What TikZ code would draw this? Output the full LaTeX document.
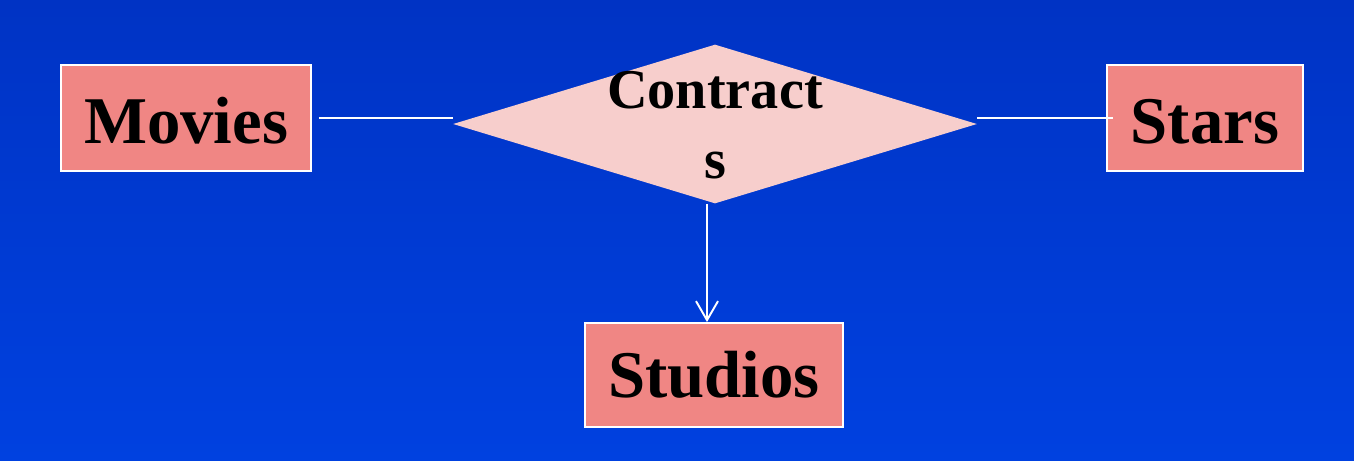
\documentclass[tikz,border=0pt]{standalone}
\usepackage{fontspec}
\setmainfont{Liberation Serif}
\usetikzlibrary{shapes.geometric, arrows.meta}

\definecolor{backtop}{RGB}{0,51,196}
\definecolor{backbottom}{RGB}{0,65,224}
\definecolor{entityfill}{RGB}{240,134,132}
\definecolor{relationfill}{RGB}{247,206,204}

\begin{document}
\begin{tikzpicture}[x = 0.02cm, y = -0.02cm, > = {Straight Barb[length = 0.38cm, width = 0.44cm]},
	entity/.style = {draw = white, line width = 1.1pt, fill = entityfill, inner sep = 0pt,
		minimum height = 2.12cm, font = \fontsize{38}{40}\selectfont\bfseries},
	relation/.style = {diamond, fill = relationfill, inner sep = 0pt},
	link/.style = {white, line width = 1.1pt}]

	% Background
	
	\fill [top color = backtop, bottom color = backbottom] (0, 0) rectangle (1354, 460);
	
	% Entity sets
	
	\node [entity, minimum width = 5cm, text height = 1.04cm, text depth = 0.02cm] (movies) at (186, 118) {Movies};
	\node [entity, minimum width = 3.92cm, text height = 1.04cm, text depth = 0.02cm] (stars) at (1205, 118) {Stars};
	\node [entity, minimum width = 5.16cm, minimum height = 2.08cm] (studios) at (714, 375) {Studios};
	
	% Relationship
	
	\node [relation, minimum width = 10.48cm, minimum height = 3.18cm] (contracts) at (715, 124) {};
	\node [align = center, font = \fontsize{32}{40}\selectfont\bfseries] (contractstext) at (715, 125) {Contract\\s};
	
	% Connectors
	
	\draw [link, shorten < = 0.14cm] (movies.east) -- (movies.east -| contracts.west);
	\draw [link] (stars.west -| contracts.east) -- ([xshift = 0.14cm] stars.west);
	\draw [link, ->] ([xshift = -0.16cm] contracts.south) -- ([xshift = -0.16cm] contracts.south |- studios.north);

\end{tikzpicture}
\end{document}
